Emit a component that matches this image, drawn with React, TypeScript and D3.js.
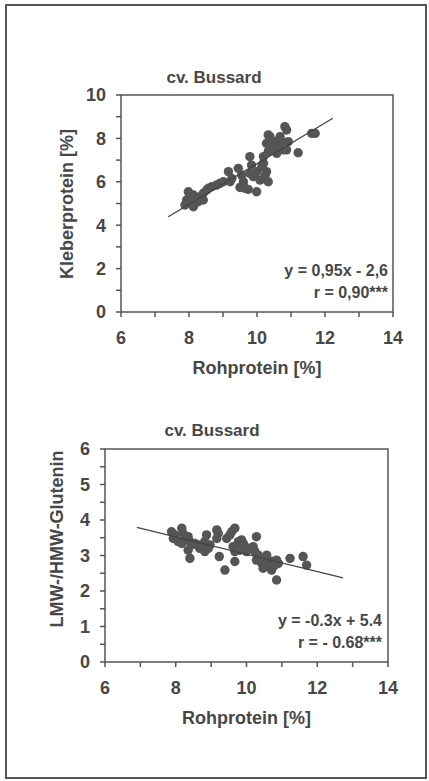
import React, { useRef, useEffect } from 'react';
import * as d3 from 'd3';

// values
const xTicks = [6, 8, 10, 12, 14];
const kleberTicks = [0, 2, 4, 6, 8, 10];
const ratioTicks = [0, 1, 2, 3, 4, 5, 6];

const kleberPoints: [number, number][] = [
  [7.98, 5.54], [8.13, 5.39], [7.93, 5.16], [8.08, 5.01], [8.23, 5.24], [8.32, 5.31],
  [8.42, 5.47], [7.88, 4.93], [8.13, 4.85], [8.27, 5.08], [8.52, 5.62], [8.57, 5.7],
  [8.42, 5.16], [8.67, 5.77], [8.81, 5.85], [8.91, 5.93], [9.01, 6.0], [9.16, 6.47],
  [9.26, 6.16], [9.21, 6.0], [9.45, 6.62], [9.55, 6.31], [9.6, 6.0], [9.5, 5.74],
  [9.65, 5.7], [9.74, 5.65], [9.79, 6.39], [9.84, 6.77], [9.79, 7.16], [9.89, 6.24],
  [9.99, 6.47], [9.99, 5.54], [10.09, 6.08], [10.14, 6.7], [10.19, 6.85], [10.24, 6.31],
  [10.28, 6.47], [10.33, 6.0], [10.19, 7.16], [10.33, 7.39], [10.28, 7.77], [10.38, 8.08],
  [10.33, 8.16], [10.48, 7.62], [10.53, 7.85], [10.58, 7.31], [10.63, 7.7], [10.68, 8.08],
  [10.73, 7.85], [10.77, 7.47], [10.82, 8.54], [10.87, 8.39], [10.92, 7.85], [10.87, 7.47],
  [11.21, 7.34], [11.61, 8.23], [11.71, 8.23], [8.03, 5.3], [9.55, 5.77],
];

const ratioPoints: [number, number][] = [
  [7.88, 3.67], [7.98, 3.58], [7.93, 3.48], [8.07, 3.39], [8.17, 3.77], [8.21, 3.62],
  [8.26, 3.48], [8.17, 3.34], [8.35, 3.53], [8.4, 3.39], [8.45, 3.3], [8.35, 3.15],
  [8.4, 2.92], [8.54, 3.34], [8.64, 3.3], [8.68, 3.2], [8.78, 3.25], [8.82, 3.39],
  [8.82, 3.11], [8.92, 3.2], [8.97, 3.3], [8.87, 3.58], [9.16, 3.72], [9.2, 3.62],
  [9.16, 3.48], [9.23, 2.97], [9.39, 2.59], [9.44, 3.48], [9.53, 3.58], [9.58, 3.67],
  [9.67, 3.77], [9.62, 3.25], [9.67, 3.11], [9.77, 3.39], [9.86, 3.44], [9.91, 3.34],
  [9.81, 3.15], [9.95, 3.25], [10.0, 3.11], [9.67, 2.83], [10.1, 3.2], [10.19, 3.25],
  [10.28, 3.53], [10.24, 3.11], [10.33, 3.01], [10.28, 2.87], [10.38, 2.92], [10.43, 2.78],
  [10.47, 2.64], [10.57, 3.01], [10.61, 2.87], [10.66, 2.73], [10.75, 2.83], [10.8, 2.73],
  [10.85, 2.87], [10.9, 2.78], [10.71, 2.59], [10.85, 2.31], [11.23, 2.92], [11.6, 2.97],
  [11.7, 2.73],
];

// regression lines as drawn (end points)
const kleberFit: [number, number][] = [[7.39, 4.39], [12.23, 8.93]];
const ratioFit: [number, number][] = [[6.9, 3.79], [12.73, 2.37]];

const title = 'cv. Bussard';
const xLabel = 'Rohprotein [%]';
const kleberLabel = 'Kleberprotein [%]';
const ratioLabel = 'LMW-/HMW-Glutenin';
const kleberStats = ['y = 0,95x - 2,6', 'r = 0,90***'];
const ratioStats = ['y = -0.3x + 5.4', 'r = - 0.68***'];

const FONT = "'Liberation Sans', Arial, sans-serif";
const INK = '#474747';

type Panel = {
  left: number; right: number; top: number; bottom: number;
  yMax: number; yTicks: number[]; yMinorStep: number;
  points: [number, number][]; fit: [number, number][];
  yLabel: string; stats: string[];
  titleX: number; titleY: number; yLabelX: number; yLabelY: number;
  yTickRight: number; statsRight: number; statsY: number;
};

const drawPanel = (svg: d3.Selection<SVGSVGElement, unknown, null, undefined>, p: Panel) => {
  const x = d3.scaleLinear().domain([6, 14]).range([p.left, p.right]);
  const y = d3.scaleLinear().domain([0, p.yMax]).range([p.bottom, p.top]);
  const g = svg.append('g');

  // frame of the plot
  g.append('rect')
    .attr('x', p.left).attr('y', p.top)
    .attr('width', p.right - p.left).attr('height', p.bottom - p.top)
    .attr('fill', 'none').attr('stroke', '#555').attr('stroke-width', 1.5);

  // x ticks every unit, downwards
  g.selectAll('line.xt')
    .data(d3.range(6, 14.01, 1))
    .join('line')
    .attr('x1', d => x(d)).attr('x2', d => x(d))
    .attr('y1', p.bottom).attr('y2', p.bottom + 5)
    .attr('stroke', '#555').attr('stroke-width', 1.5);

  g.selectAll('text.xl')
    .data(xTicks)
    .join('text')
    .attr('x', d => x(d)).attr('y', p.bottom + 32)
    .attr('text-anchor', 'middle')
    .text(d => d);

  // y ticks
  g.selectAll('line.yt')
    .data(d3.range(0, p.yMax + 0.01, p.yMinorStep))
    .join('line')
    .attr('x1', p.left - 5).attr('x2', p.left)
    .attr('y1', d => y(d)).attr('y2', d => y(d))
    .attr('stroke', '#555').attr('stroke-width', 1.5);

  g.selectAll('text.yl')
    .data(p.yTicks)
    .join('text')
    .attr('x', p.yTickRight).attr('y', d => y(d))
    .attr('dy', '0.36em')
    .attr('text-anchor', 'end')
    .text(d => d);

  // points
  g.selectAll('circle')
    .data(p.points)
    .join('circle')
    .attr('cx', d => x(d[0])).attr('cy', d => y(d[1]))
    .attr('r', 4.7)
    .attr('fill', '#555');

  const line = d3.line<[number, number]>().x(d => x(d[0])).y(d => y(d[1]));
  g.append('path')
    .attr('d', line(p.fit))
    .attr('fill', 'none').attr('stroke', '#444').attr('stroke-width', 1.3);

  // texts
  g.append('text')
    .attr('x', p.titleX).attr('y', p.titleY)
    .attr('text-anchor', 'middle')
    .style('font-size', '17px')
    .text(title);

  g.append('text')
    .attr('x', (p.left + p.right) / 2).attr('y', p.bottom + 62)
    .attr('text-anchor', 'middle')
    .text(xLabel);

  g.append('text')
    .attr('transform', `translate(${p.yLabelX},${p.yLabelY}) rotate(-90)`)
    .attr('text-anchor', 'middle')
    .text(p.yLabel);

  g.selectAll('text.st')
    .data(p.stats)
    .join('text')
    .attr('x', p.statsRight)
    .attr('y', (d, i) => p.statsY + i * 22)
    .attr('text-anchor', 'end')
    .style('font-size', '16px')
    .text(d => d);
};

const App = () => {
  const svgRef = useRef<SVGSVGElement>(null);

  useEffect(() => {
    const svg = d3.select(svgRef.current!);
    svg.selectAll('*').remove();

    svg.attr('font-family', FONT).attr('font-weight', 'bold')
      .attr('font-size', 18).attr('fill', INK);

    // outer border of the figure
    svg.append('rect')
      .attr('x', 6).attr('y', 5).attr('width', 420).attr('height', 773)
      .attr('fill', 'none').attr('stroke', '#555').attr('stroke-width', 2);

    drawPanel(svg, {
      left: 121, right: 393, top: 95, bottom: 312,
      yMax: 10, yTicks: kleberTicks, yMinorStep: 1,
      points: kleberPoints, fit: kleberFit,
      yLabel: kleberLabel, stats: kleberStats,
      titleX: 214, titleY: 83, yLabelX: 73, yLabelY: 204,
      yTickRight: 106, statsRight: 388, statsY: 276,
    });

    drawPanel(svg, {
      left: 105, right: 388, top: 449, bottom: 662,
      yMax: 6, yTicks: ratioTicks, yMinorStep: 0.5,
      points: ratioPoints, fit: ratioFit,
      yLabel: ratioLabel, stats: ratioStats,
      titleX: 212, titleY: 436, yLabelX: 63, yLabelY: 539,
      yTickRight: 90, statsRight: 382, statsY: 626,
    });
  }, []);

  return (
    <svg
      ref={svgRef}
      width={429}
      height={781}
      style={{ position: 'absolute', left: 0, top: 0, background: '#fff' }}
    />
  );
};

export default App;
